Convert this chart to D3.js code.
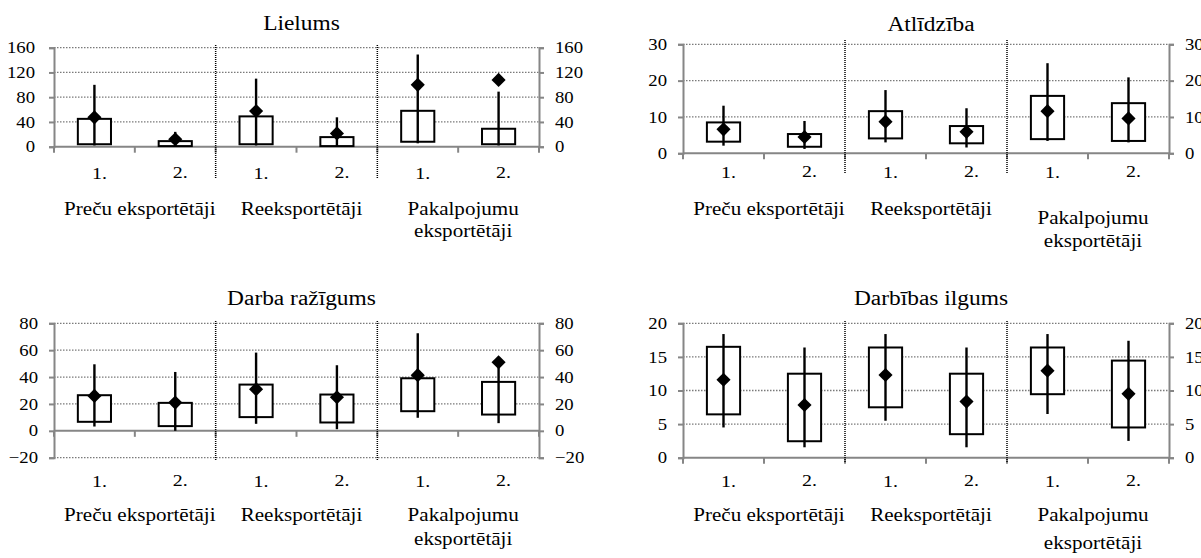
<!DOCTYPE html>
<html>
<head>
<meta charset="utf-8">
<script src="https://cdn.jsdelivr.net/npm/d3@7"></script>
<style>
  body { margin: 0; background: #fff; }
  text { font-family: "Liberation Serif", "Times New Roman", serif; fill: #000; }
</style>
</head>
<body>
<div id="chart"></div>
<script>
const groups = ["Preču eksportētāji", "Reeksportētāji", "Pakalpojumu eksportētāji"];
const groupLines = [["Preču eksportētāji"], ["Reeksportētāji"], ["Pakalpojumu", "eksportētāji"]];
const subgroups = ["1.", "2."];

// Lielums
const lielumsTicks = [0, 40, 80, 120, 160];
const lielumsBoxLow = [4, 1, 4, 1, 8, 4];
const lielumsBoxHigh = [45, 9, 49, 15.5, 58, 29];
const lielumsMin = [2, 1, 2, 1, 5.5, 2];
const lielumsMax = [100, 24, 110, 47.5, 149, 89];
const lielumsMean = [47.5, 12, 57.5, 21.5, 100, 108];

// Atlīdzība
const atlTicks = [0, 10, 20, 30];
const atlBoxLow = [3.2, 1.8, 4.1, 2.75, 3.9, 3.4];
const atlBoxHigh = [8.5, 5.3, 11.6, 7.5, 15.8, 13.8];
const atlMin = [2.1, 1.2, 3.0, 1.6, 3.4, 3.0];
const atlMax = [13.1, 8.9, 17.4, 12.4, 24.8, 20.9];
const atlMean = [6.6, 4.5, 8.7, 5.9, 11.6, 9.6];

// Darba ražīgums
const razTicks = [-20, 0, 20, 40, 60, 80];
const razBoxLow = [6.7, 3.5, 10.2, 6.2, 14.6, 12.1];
const razBoxHigh = [26.5, 20.8, 34.4, 27, 39.1, 36.4];
const razMin = [3.2, 0, 5.2, 1.2, 9.7, 5.7];
const razMax = [49.5, 43.8, 58.2, 48.8, 72.6, 47.3];
const razMean = [26, 21, 31, 25, 41.4, 51];

// Darbības ilgums
const ilgTicks = [0, 5, 10, 15, 20];
const ilgBoxLow = [6.45, 2.45, 7.5, 3.5, 9.45, 4.5];
const ilgBoxHigh = [16.5, 12.5, 16.4, 12.5, 16.4, 14.45];
const ilgMin = [4.5, 1.55, 5.5, 1.55, 6.5, 2.5];
const ilgMax = [18.4, 16.4, 18.4, 16.4, 18.4, 17.4];
const ilgMean = [11.6, 7.85, 12.3, 8.35, 12.95, 9.5];

const panels = [
  { title: "Lielums", ticks: lielumsTicks, low: lielumsBoxLow, high: lielumsBoxHigh, min: lielumsMin, max: lielumsMax, mean: lielumsMean,
    left: 54, right: 539, top: 47.7, bottom: 146.7, titleY: 30, labelGap: 19, catY: 179, groupY: 215, wrapY: 215, wrapGap: 22, sepTop: 45, sepBottom: 178 },
  { title: "Atlīdzība", ticks: atlTicks, low: atlBoxLow, high: atlBoxHigh, min: atlMin, max: atlMax, mean: atlMean,
    left: 683, right: 1169, top: 44.3, bottom: 153.3, titleY: 31, labelGap: 16, catY: 178, groupY: 215, wrapY: 224, wrapGap: 23, sepTop: 40, sepBottom: 174 },
  { title: "Darba ražīgums", ticks: razTicks, low: razBoxLow, high: razBoxHigh, min: razMin, max: razMax, mean: razMean,
    left: 54, right: 539, top: 323.3, bottom: 457.7, titleY: 305, labelGap: 16, catY: 487, groupY: 521, wrapY: 521, wrapGap: 24, sepTop: 321, sepBottom: 461 },
  { title: "Darbības ilgums", ticks: ilgTicks, low: ilgBoxLow, high: ilgBoxHigh, min: ilgMin, max: ilgMax, mean: ilgMean,
    left: 683, right: 1169, top: 323.3, bottom: 457.7, titleY: 305, labelGap: 16, catY: 487, groupY: 521, wrapY: 521, wrapGap: 28, sepTop: 321, sepBottom: 462 },
];

const SX = 1.17; // the source figure is stretched horizontally
const axisColor = "#868686";
const gridColor = "#7a7a7a";

const cats = groups.flatMap((g, gi) => subgroups.map((s) => gi + "|" + s));

const svg = d3.select("#chart").append("svg")
  .attr("width", 1201)
  .attr("height", 558);

function stretch(sel) {
  sel.each(function () {
    const w = this.getComputedTextLength();
    d3.select(this).attr("textLength", w * SX).attr("lengthAdjust", "spacingAndGlyphs");
  });
}

panels.forEach((p) => {
  const g = svg.append("g");
  const x = d3.scaleBand().domain(cats).range([p.left, p.right]);
  const y = d3.scaleLinear().domain(d3.extent(p.ticks)).range([p.bottom, p.top]);
  const bw = x.bandwidth();
  const y0 = y(0);
  const boxW = bw * 0.41;

  // grid
  g.append("g").selectAll("line")
    .data(p.ticks.filter((t) => t !== 0))
    .join("line")
    .attr("x1", p.left).attr("x2", p.right)
    .attr("y1", (d) => y(d)).attr("y2", (d) => y(d))
    .attr("stroke", gridColor).attr("stroke-width", 1.3)
    .attr("stroke-dasharray", "1.5,1.5");

  // y axes both sides
  const yl = g.append("g").attr("transform", `translate(${p.left},0)`)
    .call(d3.axisLeft(y).tickValues(p.ticks).tickSize(5).tickPadding(p.labelGap - 5));
  const yr = g.append("g").attr("transform", `translate(${p.right},0)`)
    .call(d3.axisRight(y).tickValues(p.ticks).tickSize(5).tickPadding(11));
  [yl, yr].forEach((a) => {
    a.select(".domain").attr("stroke", axisColor).attr("stroke-width", 2);
    a.selectAll(".tick line").attr("stroke", axisColor).attr("stroke-width", 2);
    a.selectAll(".tick text").attr("font-size", 16).attr("font-family", null).call(stretch);
  });

  // x axis at 0
  g.append("line")
    .attr("x1", p.left).attr("x2", p.right)
    .attr("y1", y0).attr("y2", y0)
    .attr("stroke", axisColor).attr("stroke-width", 2);
  g.append("g").selectAll("line")
    .data(d3.range(cats.length + 1))
    .join("line")
    .attr("x1", (i) => p.left + i * bw).attr("x2", (i) => p.left + i * bw)
    .attr("y1", y0).attr("y2", y0 + 6)
    .attr("stroke", axisColor).attr("stroke-width", 2);

  // group separators
  g.append("g").selectAll("line")
    .data([cats[2], cats[4]])
    .join("line")
    .attr("x1", (d) => x(d)).attr("x2", (d) => x(d))
    .attr("y1", p.sepTop).attr("y2", p.sepBottom)
    .attr("stroke", "#000").attr("stroke-width", 1.5)
    .attr("stroke-dasharray", "1,1");

  // boxes
  const items = g.append("g").selectAll("g")
    .data(cats)
    .join("g")
    .attr("transform", (d) => `translate(${x(d) + bw / 2},0)`);

  items.append("rect")
    .attr("x", -boxW / 2)
    .attr("width", boxW)
    .attr("y", (d, i) => y(p.high[i]))
    .attr("height", (d, i) => y(p.low[i]) - y(p.high[i]))
    .attr("fill", "#fff").attr("stroke", "#000").attr("stroke-width", 2);

  items.append("line")
    .attr("x1", 0).attr("x2", 0)
    .attr("y1", (d, i) => y(p.max[i]))
    .attr("y2", (d, i) => y(p.min[i]))
    .attr("stroke", "#000").attr("stroke-width", 2.4);

  items.append("path")
    .attr("d", d3.symbol(d3.symbolSquare, 100)())
    .attr("transform", (d, i) => `translate(0,${y(p.mean[i])}) rotate(45)`)
    .attr("fill", "#000");

  // category labels
  g.append("g").selectAll("text")
    .data(cats)
    .join("text")
    .attr("x", (d) => x(d) + bw / 2 + 5)
    .attr("y", (d, i) => p.catY - (i % 2) * 1.5)
    .attr("text-anchor", "middle")
    .attr("font-size", 17)
    .text((d) => d.split("|")[1])
    .call(stretch);

  // group labels
  const gl = g.append("g").selectAll("text")
    .data(groupLines)
    .join("text")
    .attr("text-anchor", "middle")
    .attr("font-size", 18)
    .attr("x", (d, gi) => x(cats[gi * 2]) + bw + 5)
    .attr("y", (d) => (d.length > 1 ? p.wrapY : p.groupY));
  gl.selectAll("tspan")
    .data((d) => d)
    .join("tspan")
    .attr("x", function () { return this.parentNode.getAttribute("x"); })
    .attr("dy", (d, i) => (i === 0 ? 0 : p.wrapGap))
    .text((d) => d);
  gl.selectAll("tspan").call(stretch);

  // title
  g.append("text")
    .attr("x", (p.left + p.right) / 2 + 5)
    .attr("y", p.titleY)
    .attr("text-anchor", "middle")
    .attr("font-size", 20)
    .text(p.title)
    .call(stretch);
});
</script>
</body>
</html>
